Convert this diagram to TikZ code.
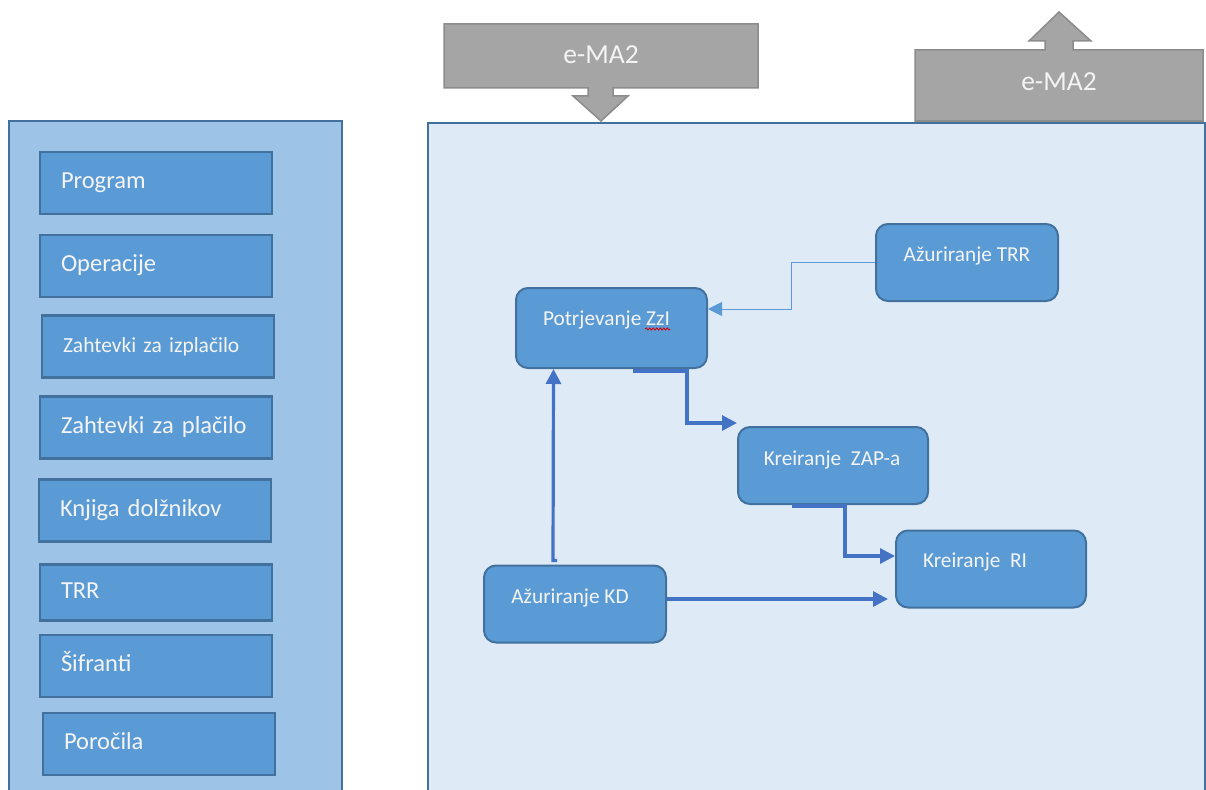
\documentclass[tikz,border=0pt]{standalone}
\usepackage{fontspec}
\setmainfont{Carlito}
\usetikzlibrary{arrows.meta,decorations.pathmorphing}

\definecolor{sidefill}{HTML}{9DC3E6}
\definecolor{mainfill}{HTML}{DEEBF7}
\definecolor{boxfill}{HTML}{5B9BD5}
\definecolor{boxline}{HTML}{41719C}
\definecolor{flowblue}{HTML}{4472C4}
\definecolor{linkblue}{HTML}{5B9BD5}
\definecolor{greyfill}{HTML}{A5A5A5}
\definecolor{greyline}{HTML}{8C8C8C}
\definecolor{lighttext}{HTML}{F4F4F4}

\tikzset{
  panel/.style={draw=boxline, line width=2pt},
  listbox/.style={draw=boxline, fill=boxfill, line width=2.4pt, rectangle,
    minimum width=232pt, minimum height=62pt, inner xsep=21pt,
    text width=190pt, align=left, text=lighttext,
    font=\fontsize{24.5}{29}\selectfont, text height=16pt, text depth=5pt},
  procbox/.style={draw=boxline, fill=boxfill, line width=2pt, rectangle,
    rounded corners=12pt, minimum width=#1, minimum height=77pt},
  proctext/.style={text=lighttext, font=\fontsize{21.3}{25}\selectfont, inner sep=0pt},
  callout/.style={draw=greyline, fill=greyfill, line width=1.5pt, line join=miter},
  callouttext/.style={text=lighttext, font=\fontsize{27.5}{32}\selectfont},
  flowline/.style={draw=flowblue, line width=3.2pt, line join=miter,
    -{Triangle[length=15pt,width=15pt]}},
  linkline/.style={draw=linkblue, line width=1pt,
    -{Triangle[length=14pt,width=14pt]}},
}

\begin{document}
\begin{tikzpicture}[x=1pt,y=-1pt]
\clip (0,0) rectangle (1206,789);
\fill[white] (0,0) rectangle (1206,789);

% side panel with the module list
\draw[panel, fill=sidefill] (9,121) rectangle (342,800);
\node[listbox] (program)   at (156,183) {Program};
\node[listbox] (operacije) at (156,266) {Operacije};
\node[listbox, font=\fontsize{21.5}{25}\selectfont] (zzi-list) at (158,346.5) {Zahtevki za izplačilo};
\node[listbox] (zzp)       at (156,427.5) {Zahtevki za plačilo};
\node[listbox] (kd-list)   at (155,510.5) {Knjiga dolžnikov};
\node[listbox, minimum height=56pt] (trr-list) at (156,592.5) {TRR};
\node[listbox] (sifranti)  at (156,666) {Šifranti};
\node[listbox] (porocila)  at (159,744) {Poročila};

% main working area
\draw[panel, fill=mainfill] (428,123) rectangle (1205,800);

% incoming e-MA2 callout
\draw[callout] (444,24) -- (758,24) -- (758,88) -- (613,88) -- (613,96) -- (628,96)
  -- (601,121) -- (573,96) -- (588,96) -- (588,88) -- (444,88) -- cycle;
\node[callouttext] (ema-in) at (601,55) {e-MA2};

% outgoing e-MA2 callout
\draw[callout] (915,121) -- (915,50) -- (1045,50) -- (1045,41) -- (1029,41)
  -- (1059,12) -- (1091,41) -- (1073,41) -- (1073,50) -- (1203,50) -- (1203,121) -- cycle;
\node[callouttext] (ema-out) at (1059,82) {e-MA2};

% process boxes
\node[procbox=182pt] (trr) at (967,262.5) {};
\node[procbox=191pt, minimum height=80pt] (zzi) at (611.5,328) {};
\node[procbox=190pt] (zap) at (833,465.5) {};
\node[procbox=190pt] (ri)  at (991,569) {};
\node[procbox=182pt] (kd)  at (575,604) {};

\node[proctext] at ([yshift=6.5pt]trr.center) {Ažuriranje TRR};
\node[proctext] (zzi-text) at ([xshift=-5pt,yshift=8pt]zzi.center) {Potrjevanje ZzI};
\node[proctext] at ([xshift=-1pt,yshift=6pt]zap.center) {Kreiranje\ \ ZAP-a};
\node[proctext] at ([xshift=-16pt,yshift=7pt]ri.center) {Kreiranje\ \ RI};
\node[proctext] at ([xshift=-5pt,yshift=6pt]kd.center) {Ažuriranje KD};

% spelling marker under the abbreviation
\draw[red!85!black, line width=0.8pt, decorate,
  decoration={snake, amplitude=1.1pt, segment length=3.5pt}]
  ([xshift=-25pt,yshift=-9pt]zzi-text.east) -- ([yshift=-9pt]zzi-text.east);

% connectors
\draw[linkline] (trr.west) -- ++(-84,0) |- ([yshift=19pt]zzi.east);
\draw[flowline] ([xshift=21.5pt,yshift=-2pt]zzi.south) -- ++(54,0)
  |- ([yshift=3pt]zap.north west);
\draw[flowline] ([xshift=-41pt,yshift=-1pt]zap.south) -- ++(53,0)
  |- ([yshift=13pt]ri.west);
\draw[flowline] ([xshift=-18pt,yshift=4pt]kd.north) -- ++(-4,0)
  -- ([xshift=-58pt]zzi.south);
\coordinate (kd-out) at ([yshift=5pt]kd.east);
\draw[flowline, shorten >=7pt] (kd-out) -- (kd-out -| ri.west);
\end{tikzpicture}
\end{document}
